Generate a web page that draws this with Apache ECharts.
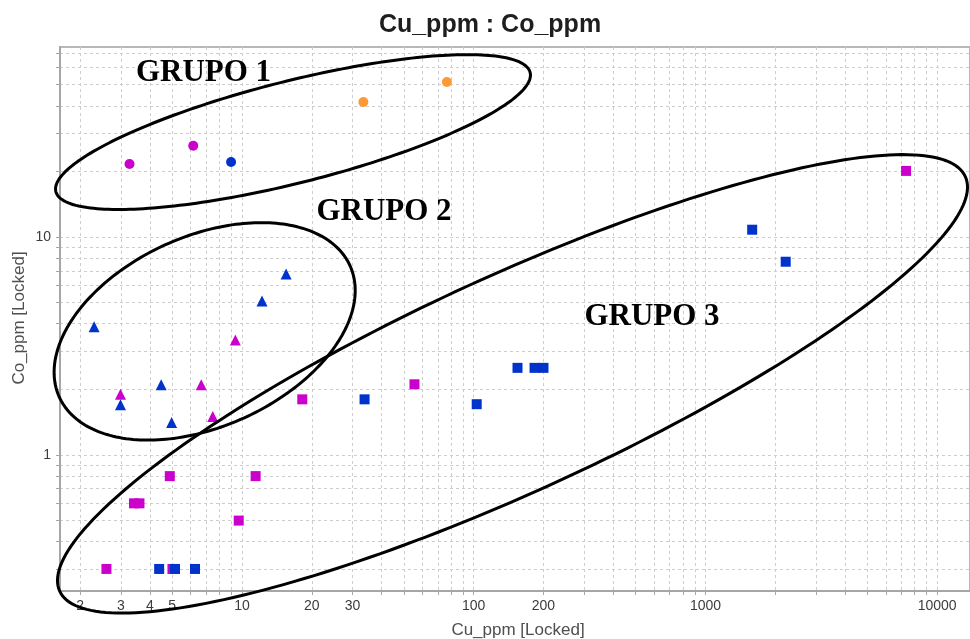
<!DOCTYPE html>
<html>
<head>
<meta charset="utf-8">
<script src="https://cdn.jsdelivr.net/npm/echarts@6/dist/echarts.min.js"></script>
<style>
html,body{margin:0;padding:0;background:#fff;}
#c{width:970px;height:639px;}
</style>
</head>
<body>
<div id="c"></div>
<script>
// ---- axis ticks / labels ----
const xTicks = [2,3,4,5,6,7,8,9,10,20,30,40,50,60,70,80,90,100,200,300,400,500,600,700,800,900,1000,2000,3000,4000,5000,6000,7000,8000,9000,10000];
const xLabels = [2,3,4,5,10,20,30,100,200,1000,10000];
const yTicks = [0.3,0.4,0.5,0.6,0.7,0.8,0.9,1,2,3,4,5,6,7,8,9,10,20,30,40,50,60,70];
const yLabels = [1,10];
const xRange = [1.639, 13857];
const yRange = [0.2377, 74.4];

// ---- data (Cu_ppm, Co_ppm) ----
const circlesMagenta = [[3.27,21.6],[6.16,26.2]];
const circlesBlue = [[8.97,22.1]];
const circlesOrange = [[33.4,41.6],[76.6,51.4]];
const trianglesBlue = [[2.30,3.87],[15.5,6.77],[12.2,5.09],[4.48,2.10],[2.99,1.70],[4.97,1.41]];
const trianglesMagenta = [[9.36,3.37],[6.67,2.10],[2.99,1.90],[7.48,1.50]];
const squaresMagenta = [[18.2,1.80],[55.5,2.11],[7342,20.1],[4.88,0.80],[11.45,0.80],[3.42,0.60],[3.61,0.60],[9.68,0.50],[2.60,0.30],[5.01,0.30]];
const squaresBlue = [[33.8,1.80],[103,1.71],[154.5,2.51],[183,2.51],[200,2.51],[2220,7.70],[1591,10.8],[4.39,0.30],[5.14,0.30],[6.27,0.30]];

// ---- group ellipses (centre in data units) ----
const groupNames = ['GRUPO 1','GRUPO 2','GRUPO 3'];
const ellipseCenters = [[16.6,30.3],[6.90,3.69],[147,2.12]];
const ellipseRadii = [[244.5,51],[159.5,95.1],[498,107.6]];
const ellipseAngles = [14.1,24.3,24.6];

const MAG = '#cc00cc', BLUE = '#0033cc', ORANGE = '#ff9933';
const axisColor = '#a6a6a6';
const gridColor = '#cdcdcd';
const fmt = v => String(Math.round(v * 1000) / 1000);

function scatter(data, symbol, color, size) {
  return {
    type: 'scatter', data: data, symbol: symbol, symbolSize: size,
    itemStyle: { color: color, opacity: 1 }, silent: true, z: 3
  };
}

const chart = echarts.init(document.getElementById('c'), null, { renderer: 'canvas' });
chart.setOption({
  animation: false,
  grid: { left: 60, top: 47, right: -5, bottom: 48, show: true, borderColor: '#b8b8b8', borderWidth: 2, backgroundColor: 'transparent' },
  xAxis: {
    type: 'log', logBase: 10, min: xRange[0], max: xRange[1],
    axisLine: { show: true, onZero: false, lineStyle: { color: axisColor, width: 2 } },
    axisTick: { show: true, customValues: xTicks, length: 4, lineStyle: { color: axisColor } },
    axisLabel: { customValues: xLabels, formatter: fmt, color: '#3c3c3c', fontSize: 14, margin: 8, fontFamily: 'Liberation Sans' },
    splitLine: { show: true, lineStyle: { color: gridColor, type: [3, 3], width: 1 } },
    minorTick: { show: false }, minorSplitLine: { show: false }
  },
  yAxis: {
    type: 'log', logBase: 10, min: yRange[0], max: yRange[1],
    axisLine: { show: true, onZero: false, lineStyle: { color: axisColor, width: 2 } },
    axisTick: { show: true, customValues: yTicks, length: 4, lineStyle: { color: axisColor } },
    axisLabel: { customValues: yLabels, formatter: fmt, color: '#3c3c3c', fontSize: 14, margin: 9, fontFamily: 'Liberation Sans' },
    splitLine: { show: true, lineStyle: { color: gridColor, type: [3, 3], width: 1 } }
  },
  graphic: [
    { type: 'text', x: 490, y: 25, z: 10, style: { text: 'Cu_ppm : Co_ppm', fontFamily: 'Liberation Sans', fontWeight: 'bold', fontSize: 25, fill: '#1e1e1e', align: 'center', verticalAlign: 'middle' } },
    { type: 'text', x: 518, y: 630, z: 10, style: { text: 'Cu_ppm [Locked]', fontFamily: 'Liberation Sans', fontSize: 17, fill: '#4f4f4f', align: 'center', verticalAlign: 'middle' } },
    { type: 'text', x: 19, y: 318, rotation: Math.PI / 2, z: 10, style: { text: 'Co_ppm [Locked]', fontFamily: 'Liberation Sans', fontSize: 17, fill: '#4f4f4f', align: 'center', verticalAlign: 'middle' } },
    { type: 'text', x: 203.5, y: 73, z: 10, style: { text: groupNames[0], fontFamily: 'Liberation Serif', fontWeight: 'bold', fontSize: 31, fill: '#000', align: 'center', verticalAlign: 'middle' } },
    { type: 'text', x: 384, y: 212, z: 10, style: { text: groupNames[1], fontFamily: 'Liberation Serif', fontWeight: 'bold', fontSize: 31, fill: '#000', align: 'center', verticalAlign: 'middle' } },
    { type: 'text', x: 652, y: 317, z: 10, style: { text: groupNames[2], fontFamily: 'Liberation Serif', fontWeight: 'bold', fontSize: 31, fill: '#000', align: 'center', verticalAlign: 'middle' } }
  ],
  series: [
    scatter(circlesMagenta, 'circle', MAG, 10),
    scatter(circlesBlue, 'circle', BLUE, 10),
    scatter(circlesOrange, 'circle', ORANGE, 10),
    scatter(trianglesMagenta, 'triangle', MAG, 11),
    scatter(trianglesBlue, 'triangle', BLUE, 11),
    scatter(squaresMagenta, 'rect', MAG, 10),
    scatter(squaresBlue, 'rect', BLUE, 10),
    {
      type: 'custom', coordinateSystem: 'cartesian2d', clip: false, silent: true, z: 4,
      data: ellipseCenters.map((c, i) => [c[0], c[1], i]),
      encode: { x: 0, y: 1 },
      renderItem: function (params, api) {
        const i = api.value(2);
        const p = api.coord([api.value(0), api.value(1)]);
        const rx = ellipseRadii[i][0], ry = ellipseRadii[i][1];
        const th = ellipseAngles[i] * Math.PI / 180;
        const ca = Math.cos(th), sa = Math.sin(th);
        const pts = [];
        for (let k = 0; k < 240; k++) {
          const t = k / 240 * 2 * Math.PI;
          const ex = rx * Math.cos(t), ey = ry * Math.sin(t);
          pts.push([p[0] + ex * ca + ey * sa, p[1] - ex * sa + ey * ca]);
        }
        return { type: 'polygon', shape: { points: pts }, style: { fill: 'none', stroke: '#000', lineWidth: 3 } };
      }
    }
  ]
});
</script>
</body>
</html>
